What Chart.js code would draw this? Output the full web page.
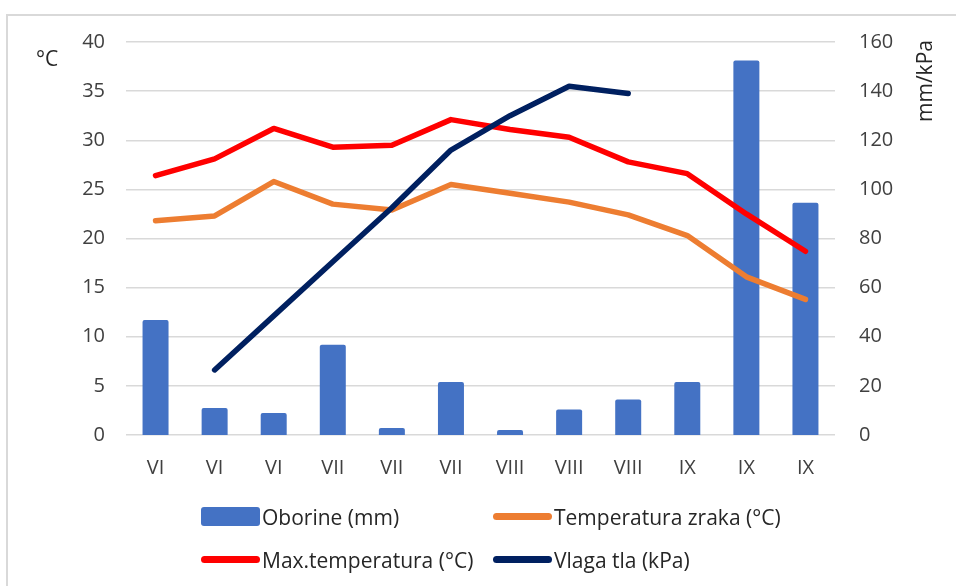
<!DOCTYPE html>
<html lang="hr">
<head>
    <meta charset="UTF-8">
    <title>Oborine, temperatura i vlaga tla</title>
    <script src="https://cdn.jsdelivr.net/npm/chart.js@4"></script>
    <style>
        body {
            margin: 0;
            background: white;
            font-family: "Open Sans", Arial, sans-serif;
        }
        .wrap {
            position: relative;
            width: 956px;
            height: 586px;
            overflow: hidden;
        }
        .frame {
            position: absolute;
            left: 6px;
            top: 14px;
            width: 1000px;
            height: 700px;
            border-left: 2px solid #d9d9d9;
            border-top: 2px solid #d9d9d9;
            box-sizing: border-box;
        }
        canvas {
            position: absolute;
            left: 0;
            top: 0;
        }
        .legend {
            position: absolute;
            left: 201px;
            top: 502px;
            display: grid;
            grid-template-columns: 292px 300px;
            row-gap: 14px;
            font-size: 21px;
            color: #262626;
        }
        .item {
            display: flex;
            align-items: center;
            height: 29px;
            white-space: nowrap;
        }
        .sw {
            width: 59px;
            margin-right: 2px;
            flex: none;
        }
        .sw.box {
            height: 19px;
            border-radius: 3px;
        }
        .sw.ln {
            height: 7px;
            border-radius: 4px;
        }
    </style>
</head>
<body>
<div class="wrap">
    <div class="frame"></div>
    <canvas id="chart" width="956" height="586"></canvas>
    <div class="legend" id="legend"></div>
</div>

<script>
    // data
    const labels = ["VI", "VI", "VI", "VII", "VII", "VII", "VIII", "VIII", "VIII", "IX", "IX", "IX"];
    const oborine = [46.8, 11.0, 9.0, 36.7, 2.8, 21.6, 2.0, 10.4, 14.5, 21.6, 152.5, 94.6];
    const tempZraka = [21.8, 22.3, 25.8, 23.5, 22.9, 25.5, 24.6, 23.7, 22.4, 20.3, 16.1, 13.8];
    const maxTemp = [26.4, 28.1, 31.2, 29.3, 29.5, 32.1, 31.1, 30.3, 27.8, 26.6, 22.5, 18.7];
    const vlagaTla = [null, 26.5, 48.5, 70.5, 92.5, 116, 130, 142, 139, null, null, null];

    const tickColor = "#404040";
    const fontFamily = "'Open Sans', Arial, sans-serif";

    // axis titles: °C flat at top left, mm/kPa turned upward at top right
    const axisTitles = {
        id: "axisTitles",
        afterDraw(chart) {
            const ctx = chart.ctx;
            ctx.save();
            ctx.fillStyle = "#262626";
            ctx.font = "21px " + fontFamily;
            ctx.textAlign = "center";
            ctx.textBaseline = "middle";
            ctx.fillText("°C", 47, 60);
            ctx.translate(926, 81);
            ctx.rotate(-Math.PI / 2);
            ctx.fillText("mm/kPa", 0, 0);
            ctx.restore();
        }
    };

    const ctx = document.getElementById("chart").getContext("2d");
    const chart = new Chart(ctx, {
        type: "bar",
        data: {
            labels: labels,
            datasets: [
                {
                    type: "bar",
                    label: "Oborine (mm)",
                    data: oborine,
                    yAxisID: "y1",
                    backgroundColor: "#4472C4",
                    barPercentage: 0.44,
                    categoryPercentage: 1,
                    borderRadius: 2,
                    borderSkipped: "bottom",
                    order: 4
                },
                {
                    type: "line",
                    label: "Temperatura zraka (°C)",
                    data: tempZraka,
                    yAxisID: "y",
                    borderColor: "#ED7D31",
                    order: 3
                },
                {
                    type: "line",
                    label: "Max.temperatura (°C)",
                    data: maxTemp,
                    yAxisID: "y",
                    borderColor: "#FF0000",
                    order: 2
                },
                {
                    type: "line",
                    label: "Vlaga tla (kPa)",
                    data: vlagaTla,
                    yAxisID: "y1",
                    borderColor: "#002060",
                    order: 1
                }
            ]
        },
        options: {
            responsive: false,
            animation: false,
            layout: {
                padding: { top: 42, bottom: 101, left: 0, right: 0 }
            },
            elements: {
                line: {
                    borderWidth: 5.5,
                    tension: 0,
                    borderCapStyle: "round",
                    borderJoinStyle: "round"
                },
                point: { radius: 0 }
            },
            plugins: {
                legend: { display: false },
                tooltip: { enabled: false }
            },
            scales: {
                x: {
                    grid: { display: false },
                    border: { display: false },
                    ticks: {
                        color: tickColor,
                        font: { family: fontFamily, size: 20 },
                        padding: 13,
                        maxRotation: 0
                    },
                    afterFit(axis) { axis.height = 50; }
                },
                y: {
                    position: "left",
                    min: 0,
                    max: 40,
                    ticks: {
                        stepSize: 5,
                        color: tickColor,
                        font: { family: fontFamily, size: 20 },
                        padding: 21
                    },
                    grid: { color: "#d9d9d9", lineWidth: 1.5, drawTicks: false },
                    border: { display: false },
                    afterFit(axis) { axis.width = 126; }
                },
                y1: {
                    position: "right",
                    min: 0,
                    max: 160,
                    ticks: {
                        stepSize: 20,
                        color: tickColor,
                        font: { family: fontFamily, size: 20 },
                        padding: 24
                    },
                    grid: { display: false, drawTicks: false },
                    border: { display: false },
                    afterFit(axis) { axis.width = 121; }
                }
            }
        },
        plugins: [axisTitles]
    });

    // legend in two columns, like the original
    const legendEl = document.getElementById("legend");
    chart.data.datasets.forEach(ds => {
        const item = document.createElement("div");
        item.className = "item";
        const sw = document.createElement("span");
        if (ds.type === "bar") {
            sw.className = "sw box";
            sw.style.background = ds.backgroundColor;
        } else {
            sw.className = "sw ln";
            sw.style.background = ds.borderColor;
        }
        item.appendChild(sw);
        item.appendChild(document.createTextNode(ds.label));
        legendEl.appendChild(item);
    });
</script>
</body>
</html>
